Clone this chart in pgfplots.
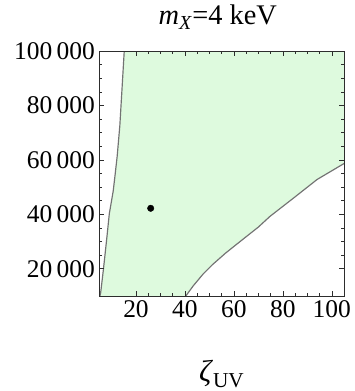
\documentclass[border=0pt]{standalone}
\usepackage{fontspec}
\setmainfont{Liberation Serif}
\usepackage{pgfplots}
\pgfplotsset{compat=1.18}

\definecolor{allowed}{RGB}{222,250,222}
\definecolor{edge}{RGB}{115,115,115}
\definecolor{frame}{RGB}{45,45,45}

\begin{document}
\begin{tikzpicture}
\begin{axis}[
  scale only axis,
  width=249bp, height=249bp,
  xmin=5, xmax=105, ymin=10000, ymax=100000,
  scaled x ticks=false,
  scaled y ticks=false,
  xtick={20,40,60,80,100},
  xticklabels={20,40,60,80,100},
  ytick={20000,40000,60000,80000,100000},
  yticklabels={20\,000,40\,000,60\,000,80\,000,100\,000},
  minor x tick num=3,
  minor y tick num=3,
  tick align=inside,
  major tick length=5bp,
  minor tick length=3bp,
  tick style={frame, line width=0.5pt},
  axis line style={frame, line width=0.7pt},
  axis on top,
  ticklabel style={font=\fontsize{26}{28}\selectfont},
  yticklabel style={xshift=-1bp},
  xticklabel style={yshift=-1bp},
  title={\textit{m}\textsubscript{\textit{X}}=4 keV},
  title style={font=\fontsize{29}{31}\selectfont, at={(axis description cs:0.5,1)}, anchor=base, yshift=21bp, xshift=-4bp},
  xlabel={\textit{ζ}\textsubscript{UV}},
  xlabel style={font=\fontsize{31}{33}\selectfont, at={(axis description cs:0.5,-0.32)}, anchor=center},
]
% allowed region between the two boundaries
\addplot[fill=allowed, draw=none] coordinates {
  (5.3,10000) (5.6,11400) (6.7,19800) (8.0,30600) (9.1,40200) (10.7,48600)
  (11.4,54000) (12.3,61200) (13.4,72600) (15.2,100000)
  (105,100000) (105,58700) (104.7,58500) (94,52800) (84.7,46200)
  (74.7,39200) (70,35300) (63.4,30600) (56.7,25800) (51.4,21600)
  (47.4,18000) (43.4,13700) (40.4,10000)
} -- cycle;
% left boundary
\addplot[edge, line width=1.2pt] coordinates {
  (5.3,10000) (5.6,11400) (6.7,19800) (8.0,30600) (9.1,40200) (10.7,48600)
  (11.4,54000) (12.3,61200) (13.4,72600) (15.2,100000)
};
% right boundary
\addplot[edge, line width=1.2pt] coordinates {
  (40.4,10000) (43.4,13700) (47.4,18000) (51.4,21600) (56.7,25800)
  (63.4,30600) (70,35300) (74.7,39200) (84.7,46200) (94,52800)
  (104.7,58500) (105,58700)
};
% benchmark point
\addplot[only marks, mark=*, mark size=3.3bp, black] coordinates {(26,42200)};
\end{axis}
\path (current axis.south west) ++(-101bp,-90bp) rectangle ++(360bp,391bp);
\end{tikzpicture}
\end{document}
